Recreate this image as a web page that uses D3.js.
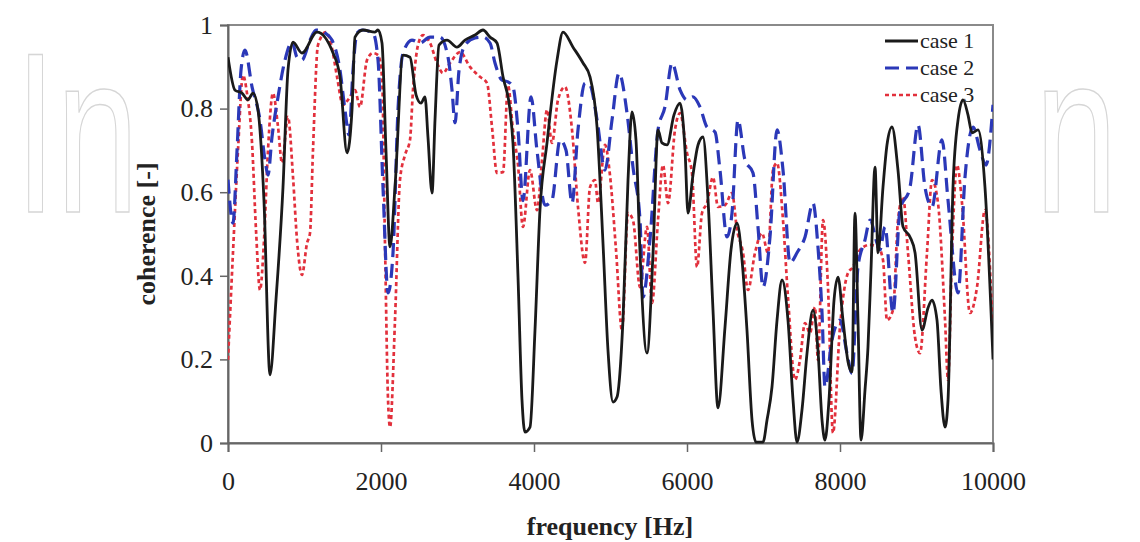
<!DOCTYPE html>
<html><head><meta charset="utf-8">
<script src="https://cdn.jsdelivr.net/npm/d3@7/dist/d3.min.js"></script>
<style>html,body{margin:0;padding:0;background:#fff;}svg{display:block;}</style>
</head><body>
<svg id="chart" width="1140" height="542"></svg>
<script>
// ---- data (frequency in Hz, coherence in [-]) ----
const xTicks = [0, 2000, 4000, 6000, 8000, 10000];
const yTicks = [0, 0.2, 0.4, 0.6, 0.8, 1];
const yTickLabels = ["0", "0.2", "0.4", "0.6", "0.8", "1"];
const seriesNames = ["case 1", "case 2", "case 3"];

const case1F = [0,92,183,261,327,392,470,549,627,719,784,850,967,1163,1373,1464,1556,1621,1660,1765,1922,1961,2013,2065,2118,2183,2288,2379,2458,2523,2575,2614,2667,2706,2758,2863,2993,3098,3229,3333,3425,3516,3595,3686,3725,3791,3843,3882,3948,4013,4078,4170,4301,4379,4510,4641,4732,4824,4902,4967,5033,5085,5163,5229,5281,5333,5386,5477,5556,5621,5673,5739,5830,5909,5974,6013,6078,6144,6209,6275,6340,6405,6497,6575,6654,6719,6784,6850,6902,6994,7046,7111,7177,7242,7320,7386,7438,7503,7569,7647,7712,7765,7804,7856,7922,7974,8039,8105,8157,8196,8235,8275,8327,8366,8405,8458,8497,8562,8614,8680,8758,8824,8915,8981,9072,9150,9203,9268,9320,9373,9412,9477,9543,9608,9673,9726,9804,9895,10000];
const case1C = [0.923,0.844,0.837,0.821,0.837,0.797,0.581,0.163,0.342,0.612,0.892,0.959,0.933,0.983,0.933,0.876,0.694,0.797,0.971,0.988,0.983,0.988,0.957,0.70,0.469,0.612,0.928,0.923,0.833,0.813,0.828,0.732,0.598,0.773,0.952,0.964,0.947,0.964,0.976,0.988,0.971,0.957,0.876,0.797,0.718,0.397,0.103,0.026,0.038,0.27,0.557,0.718,0.916,0.983,0.947,0.909,0.876,0.756,0.478,0.222,0.098,0.110,0.294,0.629,0.792,0.725,0.455,0.215,0.455,0.749,0.718,0.713,0.785,0.813,0.701,0.550,0.641,0.713,0.732,0.581,0.318,0.084,0.278,0.462,0.526,0.438,0.270,0.055,0.002,0.002,0.055,0.134,0.294,0.39,0.294,0.103,0.002,0.079,0.215,0.318,0.222,0.055,0.007,0.103,0.342,0.397,0.294,0.194,0.170,0.55,0.294,0.007,0.127,0.23,0.414,0.66,0.455,0.612,0.713,0.756,0.653,0.517,0.493,0.455,0.270,0.323,0.342,0.294,0.127,0.038,0.103,0.612,0.773,0.821,0.785,0.742,0.749,0.612,0.2];

const case2F = [0,65,118,170,222,314,418,484,523,575,654,745,837,902,967,1072,1150,1268,1359,1464,1529,1582,1634,1686,1752,1895,1961,2026,2092,2157,2222,2288,2405,2510,2641,2771,2876,2928,2967,3020,3098,3229,3333,3425,3490,3582,3660,3725,3791,3856,3961,4039,4144,4235,4340,4418,4497,4575,4667,4732,4824,4928,5020,5111,5216,5294,5386,5425,5516,5621,5712,5804,5909,6000,6078,6170,6261,6366,6431,6523,6588,6667,6758,6863,6928,6994,7085,7177,7255,7347,7438,7543,7647,7712,7765,7804,7895,8000,8091,8157,8235,8327,8392,8484,8523,8588,8693,8784,8915,9020,9111,9203,9333,9412,9543,9634,9739,9830,9909,10000];
const case2C = [0.63,0.526,0.70,0.892,0.94,0.852,0.773,0.677,0.641,0.732,0.828,0.916,0.959,0.923,0.916,0.964,0.988,0.981,0.964,0.892,0.797,0.737,0.892,0.981,0.988,0.981,0.916,0.612,0.359,0.455,0.797,0.933,0.964,0.957,0.971,0.971,0.923,0.845,0.766,0.892,0.952,0.969,0.971,0.957,0.909,0.868,0.864,0.852,0.749,0.58,0.828,0.70,0.569,0.581,0.725,0.701,0.574,0.749,0.861,0.856,0.773,0.653,0.773,0.885,0.789,0.66,0.533,0.349,0.486,0.749,0.804,0.909,0.845,0.821,0.828,0.804,0.756,0.744,0.653,0.493,0.55,0.773,0.677,0.646,0.517,0.373,0.493,0.749,0.653,0.431,0.455,0.493,0.574,0.469,0.311,0.134,0.246,0.294,0.215,0.167,0.421,0.486,0.533,0.478,0.462,0.517,0.311,0.557,0.612,0.761,0.612,0.565,0.725,0.581,0.359,0.636,0.756,0.701,0.665,0.809];

const case3F = [0,65,131,196,248,314,366,418,471,523,588,654,706,784,850,902,967,1033,1072,1111,1176,1281,1359,1425,1503,1569,1660,1725,1817,1895,1961,2013,2052,2092,2118,2183,2248,2314,2379,2418,2484,2549,2641,2732,2810,2902,3033,3163,3294,3386,3451,3516,3595,3660,3725,3791,3856,3948,4039,4105,4170,4235,4314,4405,4497,4575,4667,4732,4797,4837,4928,4993,5072,5150,5229,5294,5386,5477,5543,5621,5686,5752,5843,5909,6000,6065,6131,6196,6261,6340,6405,6497,6588,6654,6732,6797,6889,6980,7059,7124,7177,7255,7320,7412,7477,7543,7608,7673,7712,7778,7843,7908,8000,8105,8170,8261,8392,8497,8562,8614,8693,8758,8824,8889,8980,9046,9137,9203,9281,9373,9412,9464,9530,9595,9699,9791,9895,10000];
const case3C = [0.199,0.455,0.701,0.880,0.837,0.718,0.510,0.366,0.486,0.701,0.837,0.756,0.670,0.780,0.636,0.486,0.402,0.478,0.502,0.701,0.952,0.983,0.945,0.876,0.809,0.821,0.844,0.804,0.916,0.933,0.928,0.876,0.478,0.103,0.038,0.294,0.629,0.689,0.725,0.844,0.952,0.976,0.957,0.909,0.885,0.909,0.935,0.90,0.876,0.861,0.756,0.646,0.648,0.856,0.749,0.665,0.517,0.653,0.557,0.677,0.797,0.718,0.821,0.852,0.749,0.565,0.431,0.612,0.629,0.574,0.713,0.641,0.462,0.270,0.550,0.533,0.373,0.517,0.335,0.533,0.665,0.574,0.749,0.789,0.694,0.646,0.421,0.550,0.574,0.636,0.565,0.569,0.598,0.510,0.455,0.366,0.455,0.502,0.455,0.653,0.670,0.533,0.349,0.151,0.199,0.287,0.263,0.325,0.199,0.533,0.373,0.024,0.278,0.407,0.421,0.462,0.474,0.469,0.438,0.294,0.318,0.533,0.589,0.455,0.254,0.215,0.455,0.629,0.574,0.294,0.151,0.455,0.665,0.574,0.311,0.373,0.557,0.254];

// ---- layout ----
const svg = d3.select("#chart");
const M = {left: 228, top: 25, right: 993, bottom: 443};
const serif = "'Liberation Serif', 'DejaVu Serif', serif";

// faint watermark fragments visible at the page edges
const wm = svg.append("g").attr("fill", "#fff").attr("stroke", "#d6d6d6").attr("stroke-width", 1.6)
  .style("font-family", "'Liberation Sans', sans-serif").style("font-size", "228px");
wm.append("text").attr("transform", "translate(15,212) scale(0.65,1)").text("In");
wm.append("text").attr("transform", "translate(1035,212) scale(0.65,1)").text("n");

const x = d3.scaleLinear().domain([0, 10000]).range([M.left, M.right]);
const y = d3.scaleLinear().domain([0, 1]).range([M.bottom, M.top]);

// frame
svg.append("rect").attr("x", M.left).attr("y", M.top)
  .attr("width", M.right - M.left).attr("height", M.bottom - M.top)
  .attr("fill", "none").attr("stroke", "#8a8a8a").attr("stroke-width", 2);

// axes
const xAxis = svg.append("g").attr("transform", `translate(0,${M.bottom})`)
  .call(d3.axisBottom(x).tickValues(xTicks).tickSize(9).tickPadding(12).tickFormat(d3.format("d")));
const yAxis = svg.append("g").attr("transform", `translate(${M.left},0)`)
  .call(d3.axisLeft(y).tickValues(yTicks).tickSize(8).tickPadding(7).tickFormat((d, i) => yTickLabels[i]));
[xAxis, yAxis].forEach(g => {
  g.select(".domain").attr("stroke", "#666").attr("stroke-width", 2);
  g.selectAll(".tick line").attr("stroke", "#666").attr("stroke-width", 1.5);
  g.selectAll(".tick text").attr("fill", "#222").style("font-family", serif).style("font-size", "26px");
});
xAxis.selectAll(".tick text").attr("dy", "1em");

// axis titles
svg.append("text").attr("x", 610).attr("y", 535).attr("text-anchor", "middle")
  .style("font-family", serif).style("font-size", "26px").style("font-weight", "bold").attr("fill", "#222")
  .text("frequency [Hz]");
svg.append("text").attr("transform", "translate(155,234) rotate(-90)").attr("text-anchor", "middle")
  .style("font-family", serif).style("font-size", "26px").style("font-weight", "bold").attr("fill", "#222")
  .text("coherence [-]");

// series
const series = [
  {f: case1F, c: case1C, color: "#1a1a1a", width: 2.8, dash: null},
  {f: case2F, c: case2C, color: "#2b38b8", width: 3.2, dash: "14,7"},
  {f: case3F, c: case3C, color: "#e2303c", width: 2.7, dash: "4,3"}
];
const line = d3.line().x(d => x(d[0])).y(d => y(d[1])).curve(d3.curveMonotoneX);
svg.append("clipPath").attr("id", "plotclip").append("rect")
  .attr("x", M.left).attr("y", M.top - 4).attr("width", M.right - M.left).attr("height", M.bottom - M.top + 6);
const plot = svg.append("g").attr("clip-path", "url(#plotclip)");
[series[2], series[1], series[0]].forEach(s => {
  plot.append("path").datum(d3.zip(s.f, s.c))
    .attr("fill", "none").attr("stroke", s.color).attr("stroke-width", s.width)
    .attr("stroke-dasharray", s.dash).attr("stroke-linejoin", "round")
    .attr("d", line);
});

// legend
const lg = svg.append("g");
const legendY = [41, 68, 95];
series.forEach((s, i) => {
  lg.append("line").attr("x1", 885).attr("x2", 918).attr("y1", legendY[i]).attr("y2", legendY[i])
    .attr("stroke", s.color).attr("stroke-width", s.width).attr("stroke-dasharray", s.dash);
  lg.append("text").attr("x", 920).attr("y", legendY[i] + 7)
    .style("font-family", serif).style("font-size", "22px").attr("fill", "#222")
    .text(seriesNames[i]);
});
</script>
</body></html>
